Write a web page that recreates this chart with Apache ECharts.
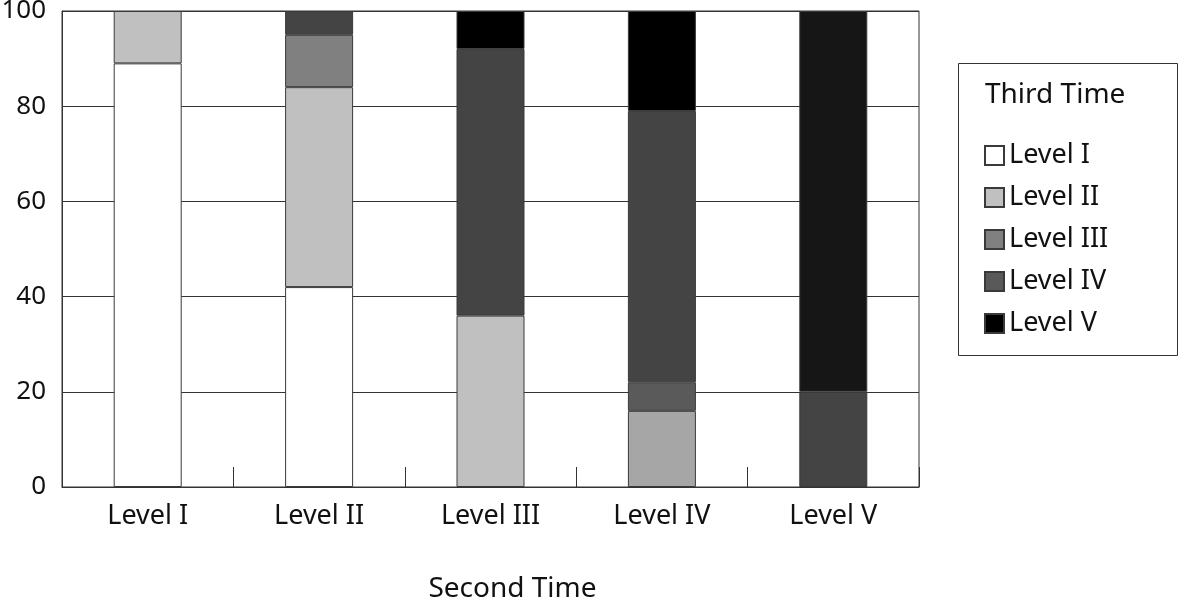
<!DOCTYPE html>
<html>
<head>
<meta charset="utf-8">
<script src="https://cdn.jsdelivr.net/npm/echarts@6/dist/echarts.min.js"></script>
<style>
  html, body { margin: 0; padding: 0; background: #fff; }
  #chart { width: 1181px; height: 601px; }
</style>
</head>
<body>
<div id="chart"></div>
<script>
// second time (x axis)
const categories = ['Level I', 'Level II', 'Level III', 'Level IV', 'Level V'];
// third time (stack segments), % per second-time level
const levelNames = ['Level I', 'Level II', 'Level III', 'Level IV', 'Level V'];
const thirdI   = [89, 42, 0, 0, 0];
const thirdII  = [11, 42, 36, 16, 0];
const thirdIII = [0, 11, 0, 6, 0];
const thirdIV  = [0, 5, 56, 57, 20];
const thirdV   = [0, 0, 8, 21, 80];
const yTicks = [0, 20, 40, 60, 80, 100];

const values = [thirdI, thirdII, thirdIII, thirdIV, thirdV];
const legendColors = ['#ffffff', '#c0c0c0', '#808080', '#595959', '#000000'];
// the printed bars do not keep one shade per series
const barColors = [
  ['#ffffff', '#ffffff', '#ffffff', '#ffffff', '#ffffff'],
  ['#c0c0c0', '#c0c0c0', '#c0c0c0', '#a6a6a6', '#c0c0c0'],
  ['#808080', '#808080', '#808080', '#5a5a5a', '#808080'],
  ['#444444', '#444444', '#444444', '#444444', '#444444'],
  ['#000000', '#000000', '#000000', '#000000', '#161616']
];

const font = '"Noto Sans", "Noto Sans CJK KR", sans-serif';
const chart = echarts.init(document.getElementById('chart'), null, { renderer: 'canvas' });

const series = levelNames.map((name, s) => ({
  name: name,
  type: 'bar',
  stack: 'total',
  barWidth: 68,
  itemStyle: { color: legendColors[s], borderColor: '#3a3a3a', borderWidth: 1 },
  data: values[s].map((v, c) => ({
    value: v === 0 ? '-' : v,   // empty segments would still draw a border line
    itemStyle: { color: barColors[s][c] }
  }))
}));

chart.setOption({
  animation: false,
  backgroundColor: '#fff',
  textStyle: { fontFamily: font },
  grid: {
    left: 62, right: 262, top: 11, bottom: 114,
    outerBoundsMode: 'none',
    containLabel: false,
    show: true, borderColor: '#333', borderWidth: 1
  },
  title: {
    text: 'Third Time',
    left: 980, top: 76,
    textStyle: { fontFamily: font, fontSize: 28, fontWeight: 'normal', color: '#111' }
  },
  legend: {
    orient: 'vertical',
    left: 979, top: 137,
    itemWidth: 19, itemHeight: 19,
    itemGap: 15,
    icon: 'rect',
    data: levelNames,
    textStyle: { fontFamily: font, fontSize: 27, color: '#111', padding: [0, 0, 0, 0] }
  },
  graphic: [{
    type: 'rect',
    shape: { x: 958.5, y: 63.5, width: 219, height: 292 },
    style: { fill: 'none', stroke: '#333', lineWidth: 1 },
    silent: true,
    z: -1
  }],
  xAxis: {
    type: 'category',
    data: categories,
    name: 'Second Time',
    nameLocation: 'middle',
    nameGap: 88,
    nameTextStyle: { fontFamily: font, fontSize: 28, color: '#111', padding: [0, 0, 0, 44] },
    axisLine: { lineStyle: { color: '#333', width: 1 } },
    axisTick: { show: true, interval: 0, inside: true, length: 20, lineStyle: { color: '#333', width: 1 } },
    axisLabel: { fontFamily: font, fontSize: 27, color: '#111', margin: 16 },
    z: 10
  },
  yAxis: {
    type: 'value',
    min: yTicks[0],
    max: yTicks[yTicks.length - 1],
    interval: 20,
    axisLine: { show: true, lineStyle: { color: '#333', width: 1 } },
    axisTick: { show: false },
    axisLabel: { fontFamily: font, fontSize: 26, color: '#111', margin: 16 },
    splitLine: { lineStyle: { color: '#333', width: 1 } }
  },
  series: series
});
</script>
</body>
</html>
